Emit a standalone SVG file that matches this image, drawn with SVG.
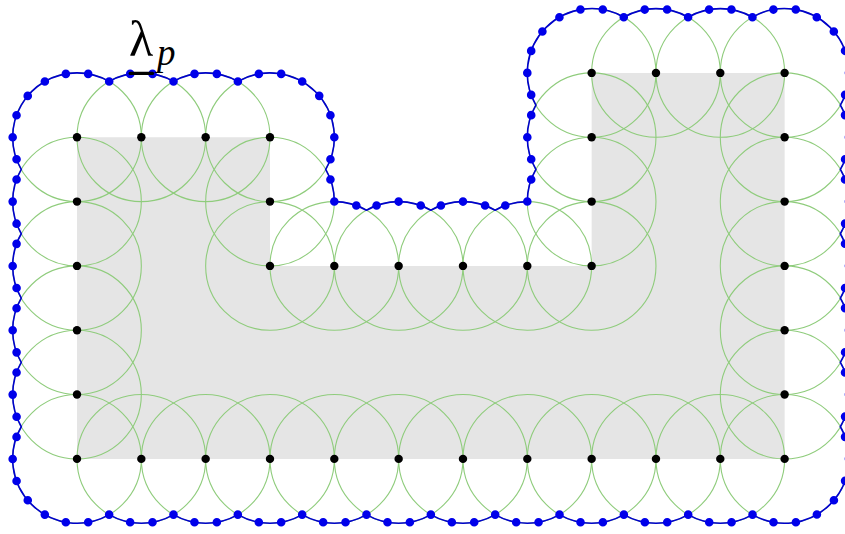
<svg xmlns="http://www.w3.org/2000/svg" width="845" height="534" viewBox="0 0 845 534">
<style>
.region{fill:#e5e5e5;stroke:none}
.cov{fill:none;stroke:#8fcc7c;stroke-width:1.1}
.pt{fill:#000}
.env{fill:none;stroke:#0000cc;stroke-width:1.6}
.envdots{fill:none;stroke:#0000ea;stroke-width:8.6;stroke-linecap:round;stroke-dasharray:0 1}
.lbl{font-family:"Liberation Serif","Times New Roman",serif;fill:#000}
</style>
<g id="region">
<polygon class="region" points="77,137.25 269.99,137.25 269.99,265.91 591.64,265.91 591.64,72.92 784.63,72.92 784.63,458.9 77,458.9"/>
</g>
<g id="coverage-circles" class="cov">
<circle cx="77" cy="137.25" r="64.33"/>
<circle cx="77" cy="201.58" r="64.33"/>
<circle cx="77" cy="265.91" r="64.33"/>
<circle cx="77" cy="330.24" r="64.33"/>
<circle cx="77" cy="394.57" r="64.33"/>
<circle cx="77" cy="458.9" r="64.33"/>
<circle cx="141.33" cy="137.25" r="64.33"/>
<circle cx="205.66" cy="137.25" r="64.33"/>
<circle cx="269.99" cy="137.25" r="64.33"/>
<circle cx="269.99" cy="201.58" r="64.33"/>
<circle cx="269.99" cy="265.91" r="64.33"/>
<circle cx="334.32" cy="265.91" r="64.33"/>
<circle cx="398.65" cy="265.91" r="64.33"/>
<circle cx="462.98" cy="265.91" r="64.33"/>
<circle cx="527.31" cy="265.91" r="64.33"/>
<circle cx="591.64" cy="265.91" r="64.33"/>
<circle cx="591.64" cy="201.58" r="64.33"/>
<circle cx="591.64" cy="137.25" r="64.33"/>
<circle cx="591.64" cy="72.92" r="64.33"/>
<circle cx="655.97" cy="72.92" r="64.33"/>
<circle cx="720.3" cy="72.92" r="64.33"/>
<circle cx="784.63" cy="72.92" r="64.33"/>
<circle cx="784.63" cy="137.25" r="64.33"/>
<circle cx="784.63" cy="201.58" r="64.33"/>
<circle cx="784.63" cy="265.91" r="64.33"/>
<circle cx="784.63" cy="330.24" r="64.33"/>
<circle cx="784.63" cy="394.57" r="64.33"/>
<circle cx="784.63" cy="458.9" r="64.33"/>
<circle cx="141.33" cy="458.9" r="64.33"/>
<circle cx="205.66" cy="458.9" r="64.33"/>
<circle cx="269.99" cy="458.9" r="64.33"/>
<circle cx="334.32" cy="458.9" r="64.33"/>
<circle cx="398.65" cy="458.9" r="64.33"/>
<circle cx="462.98" cy="458.9" r="64.33"/>
<circle cx="527.31" cy="458.9" r="64.33"/>
<circle cx="591.64" cy="458.9" r="64.33"/>
<circle cx="655.97" cy="458.9" r="64.33"/>
<circle cx="720.3" cy="458.9" r="64.33"/>
</g>
<g id="envelope">
<path class="env" d="M12.67 137.25 A64.33 64.33 0 0 1 109.17 81.54 A64.33 64.33 0 0 1 173.50 81.54 A64.33 64.33 0 0 1 237.83 81.54 A64.33 64.33 0 0 1 325.70 169.42 A64.33 64.33 0 0 1 334.32 201.58 A64.33 64.33 0 0 1 366.49 210.20 A64.33 64.33 0 0 1 430.82 210.20 A64.33 64.33 0 0 1 495.15 210.20 A64.33 64.33 0 0 1 527.31 201.58 A64.33 64.33 0 0 1 535.93 169.42 A64.33 64.33 0 0 1 535.93 105.09 A64.33 64.33 0 0 1 623.81 17.21 A64.33 64.33 0 0 1 688.14 17.21 A64.33 64.33 0 0 1 752.47 17.21 A64.33 64.33 0 0 1 840.34 105.09 A64.33 64.33 0 0 1 840.34 169.42 A64.33 64.33 0 0 1 840.34 233.75 A64.33 64.33 0 0 1 840.34 298.08 A64.33 64.33 0 0 1 840.34 362.41 A64.33 64.33 0 0 1 840.34 426.74 A64.33 64.33 0 0 1 752.47 514.61 A64.33 64.33 0 0 1 688.14 514.61 A64.33 64.33 0 0 1 623.81 514.61 A64.33 64.33 0 0 1 559.48 514.61 A64.33 64.33 0 0 1 495.15 514.61 A64.33 64.33 0 0 1 430.82 514.61 A64.33 64.33 0 0 1 366.49 514.61 A64.33 64.33 0 0 1 302.16 514.61 A64.33 64.33 0 0 1 237.83 514.61 A64.33 64.33 0 0 1 173.50 514.61 A64.33 64.33 0 0 1 109.17 514.61 A64.33 64.33 0 0 1 21.29 426.74 A64.33 64.33 0 0 1 21.29 362.41 A64.33 64.33 0 0 1 21.29 298.08 A64.33 64.33 0 0 1 21.29 233.75 A64.33 64.33 0 0 1 21.29 169.42 A64.33 64.33 0 0 1 12.67 137.25 Z"/>
<path class="envdots" pathLength="129" d="M12.67 137.25 A64.33 64.33 0 0 1 109.17 81.54 A64.33 64.33 0 0 1 173.50 81.54 A64.33 64.33 0 0 1 237.83 81.54 A64.33 64.33 0 0 1 325.70 169.42 A64.33 64.33 0 0 1 334.32 201.58 A64.33 64.33 0 0 1 366.49 210.20 A64.33 64.33 0 0 1 430.82 210.20 A64.33 64.33 0 0 1 495.15 210.20 A64.33 64.33 0 0 1 527.31 201.58 A64.33 64.33 0 0 1 535.93 169.42 A64.33 64.33 0 0 1 535.93 105.09 A64.33 64.33 0 0 1 623.81 17.21 A64.33 64.33 0 0 1 688.14 17.21 A64.33 64.33 0 0 1 752.47 17.21 A64.33 64.33 0 0 1 840.34 105.09 A64.33 64.33 0 0 1 840.34 169.42 A64.33 64.33 0 0 1 840.34 233.75 A64.33 64.33 0 0 1 840.34 298.08 A64.33 64.33 0 0 1 840.34 362.41 A64.33 64.33 0 0 1 840.34 426.74 A64.33 64.33 0 0 1 752.47 514.61 A64.33 64.33 0 0 1 688.14 514.61 A64.33 64.33 0 0 1 623.81 514.61 A64.33 64.33 0 0 1 559.48 514.61 A64.33 64.33 0 0 1 495.15 514.61 A64.33 64.33 0 0 1 430.82 514.61 A64.33 64.33 0 0 1 366.49 514.61 A64.33 64.33 0 0 1 302.16 514.61 A64.33 64.33 0 0 1 237.83 514.61 A64.33 64.33 0 0 1 173.50 514.61 A64.33 64.33 0 0 1 109.17 514.61 A64.33 64.33 0 0 1 21.29 426.74 A64.33 64.33 0 0 1 21.29 362.41 A64.33 64.33 0 0 1 21.29 298.08 A64.33 64.33 0 0 1 21.29 233.75 A64.33 64.33 0 0 1 21.29 169.42 A64.33 64.33 0 0 1 12.67 137.25 Z"/>
</g>
<g id="boundary-points" class="pt">
<circle cx="77" cy="137.25" r="4.2"/>
<circle cx="77" cy="201.58" r="4.2"/>
<circle cx="77" cy="265.91" r="4.2"/>
<circle cx="77" cy="330.24" r="4.2"/>
<circle cx="77" cy="394.57" r="4.2"/>
<circle cx="77" cy="458.9" r="4.2"/>
<circle cx="141.33" cy="137.25" r="4.2"/>
<circle cx="205.66" cy="137.25" r="4.2"/>
<circle cx="269.99" cy="137.25" r="4.2"/>
<circle cx="269.99" cy="201.58" r="4.2"/>
<circle cx="269.99" cy="265.91" r="4.2"/>
<circle cx="334.32" cy="265.91" r="4.2"/>
<circle cx="398.65" cy="265.91" r="4.2"/>
<circle cx="462.98" cy="265.91" r="4.2"/>
<circle cx="527.31" cy="265.91" r="4.2"/>
<circle cx="591.64" cy="265.91" r="4.2"/>
<circle cx="591.64" cy="201.58" r="4.2"/>
<circle cx="591.64" cy="137.25" r="4.2"/>
<circle cx="591.64" cy="72.92" r="4.2"/>
<circle cx="655.97" cy="72.92" r="4.2"/>
<circle cx="720.3" cy="72.92" r="4.2"/>
<circle cx="784.63" cy="72.92" r="4.2"/>
<circle cx="784.63" cy="137.25" r="4.2"/>
<circle cx="784.63" cy="201.58" r="4.2"/>
<circle cx="784.63" cy="265.91" r="4.2"/>
<circle cx="784.63" cy="330.24" r="4.2"/>
<circle cx="784.63" cy="394.57" r="4.2"/>
<circle cx="784.63" cy="458.9" r="4.2"/>
<circle cx="141.33" cy="458.9" r="4.2"/>
<circle cx="205.66" cy="458.9" r="4.2"/>
<circle cx="269.99" cy="458.9" r="4.2"/>
<circle cx="334.32" cy="458.9" r="4.2"/>
<circle cx="398.65" cy="458.9" r="4.2"/>
<circle cx="462.98" cy="458.9" r="4.2"/>
<circle cx="527.31" cy="458.9" r="4.2"/>
<circle cx="591.64" cy="458.9" r="4.2"/>
<circle cx="655.97" cy="458.9" r="4.2"/>
<circle cx="720.3" cy="458.9" r="4.2"/>
</g>
<g id="lambda-label">
<line x1="130.2" y1="73.4" x2="152.5" y2="73.4" stroke="#000" stroke-width="3.2" stroke-linecap="round"/>
<text class="lbl" x="129" y="55.5" font-size="50">λ</text>
<text class="lbl" x="157" y="64.5" font-size="37" font-style="italic">p</text>
</g>
</svg>
